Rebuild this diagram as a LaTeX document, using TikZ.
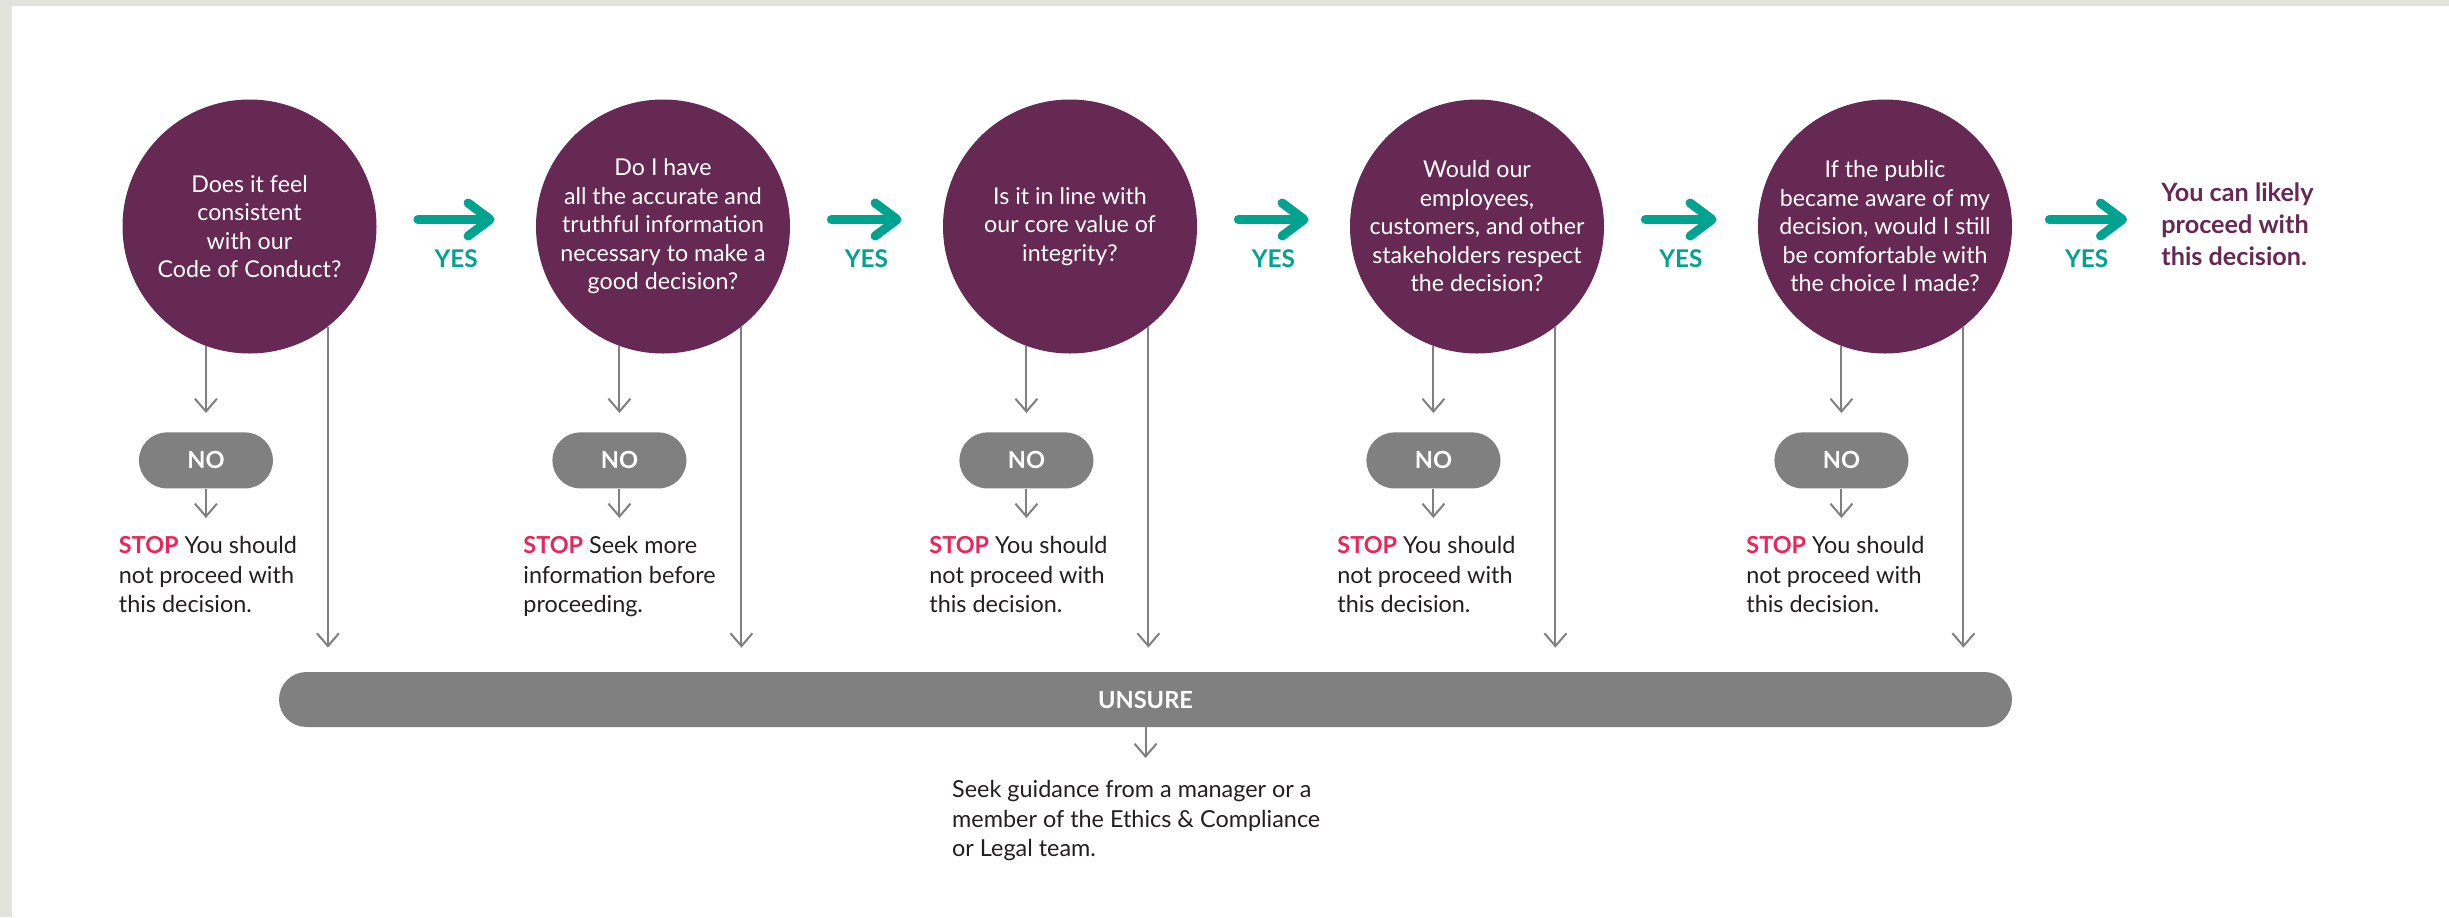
\documentclass[tikz,border=0pt]{standalone}
\usepackage{fontspec}
\setmainfont{Lato}
\usetikzlibrary{arrows.meta}

\definecolor{plum}{HTML}{652953}
\definecolor{yesgreen}{HTML}{00A38F}
\definecolor{stopred}{HTML}{E8265A}
\definecolor{flowgray}{HTML}{808080}
\definecolor{framegray}{HTML}{E3E3DD}
\definecolor{ink}{HTML}{231F20}

\newcommand{\stopword}{\textcolor{stopred}{\bfseries STOP}}

\begin{document}
\begin{tikzpicture}
  [x=0.5pt,y=-0.5pt,
   question/.style={circle,fill=plum,text=white,inner sep=0pt,minimum size=127pt,
     align=center,font=\fontsize{11.6}{14.25}\selectfont},
   nopill/.style={fill=flowgray,text=white,rounded corners=14pt,minimum width=67pt,
     minimum height=28pt,font=\fontsize{11.8}{13}\selectfont\bfseries},
   unsurebar/.style={fill=flowgray,text=white,rounded corners=13.75pt,minimum width=866.5pt,
     minimum height=27.5pt,font=\fontsize{11.8}{13}\selectfont\bfseries},
   note/.style={text=ink,inner sep=0pt,align=left,anchor=north west,
     font=\fontsize{11.7}{14.75}\selectfont},
   flowarrow/.style={draw=flowgray,line width=1pt,-{Straight Barb[length=6.4pt,width=11pt]}},
   yesarrow/.style={draw=yesgreen,line width=4.5pt,line cap=round,
     -{Straight Barb[length=11pt,width=16.5pt,round]},shorten <=20.5pt,shorten >=20.5pt},
   yeslabel/.style={text=yesgreen,inner sep=0pt,font=\fontsize{12.2}{13}\selectfont\bfseries}]

  % page frame
  \fill[framegray] (0,0) rectangle (2449,917);
  \fill[white] (12,6) rectangle (2449,917);

  % the five questions
  \node[question] (qa) at (249.5,226.5) {Does it feel\\consistent\\with our\\Code of Conduct?};
  \node[question] (qb) at (663,226.5) {Do I have\\all the accurate and\\truthful information\\necessary to make a\\good decision?};
  \node[question] (qc) at (1070,226.5) {Is it in line with\\our core value of\\integrity?};
  \node[question] (qd) at (1477,226.5) {Would our\\employees,\\customers, and other\\stakeholders respect\\the decision?};
  \node[question] (qe) at (1885,226.5) {If the public\\became aware of my\\decision, would I still\\be comfortable with\\the choice I made?};

  \node[text=plum,inner sep=0pt,align=left,anchor=west,font=\fontsize{12.6}{16}\selectfont\bfseries]
    (done) at (2161,224) {You can likely\\proceed with\\this decision.};

  \node[unsurebar] (unsure) at (1145.5,699.5) {UNSURE};

  % what to do after a no
  \node[note] (stopa) at (118.5,536) {\stopword\ You should\\not proceed with\\this decision.};
  \node[note] (stopb) at (523,536) {\stopword\ Seek more\\information before\\proceeding.};
  \node[note] (stopc) at (929,536) {\stopword\ You should\\not proceed with\\this decision.};
  \node[note] (stopd) at (1337,536) {\stopword\ You should\\not proceed with\\this decision.};
  \node[note] (stope) at (1746,536) {\stopword\ You should\\not proceed with\\this decision.};

  \node[note] (guide) at (951.8,780) {Seek guidance from a manager or a\\member of the Ethics \& Compliance\\or Legal team.};

  % yes arrows
  \foreach \from/\to in {qa/qb,qb/qc,qc/qd,qd/qe}
    \draw[yesarrow] ([yshift=3.5pt]\from.east) -- node[yeslabel,below=13pt] {YES} ([yshift=3.5pt]\to.west);
  \draw[yesarrow,shorten <=18.5pt,shorten >=17pt] ([yshift=3.5pt]qe.east) -- node[yeslabel,below=13pt] {YES} ([yshift=2.25pt]done.west);

  % no and unsure branches
  \foreach \q in {a,b,c,d,e} {
    \node[nopill] (no\q) at ([yshift=-57.1pt]q\q.250) {NO};
    \draw[flowarrow,shorten >=9.5pt] (q\q.250) -- (no\q.north);
    \draw[flowarrow,shorten >=9pt] (no\q.south) -- (no\q.south |- stop\q.north);
    \draw[flowarrow,shorten >=12pt] (q\q.308) -- (q\q.308 |- unsure.north);
  }
  \draw[flowarrow,shorten >=11pt] (unsure.south) -- (unsure.south |- guide.north);

\end{tikzpicture}
\end{document}
